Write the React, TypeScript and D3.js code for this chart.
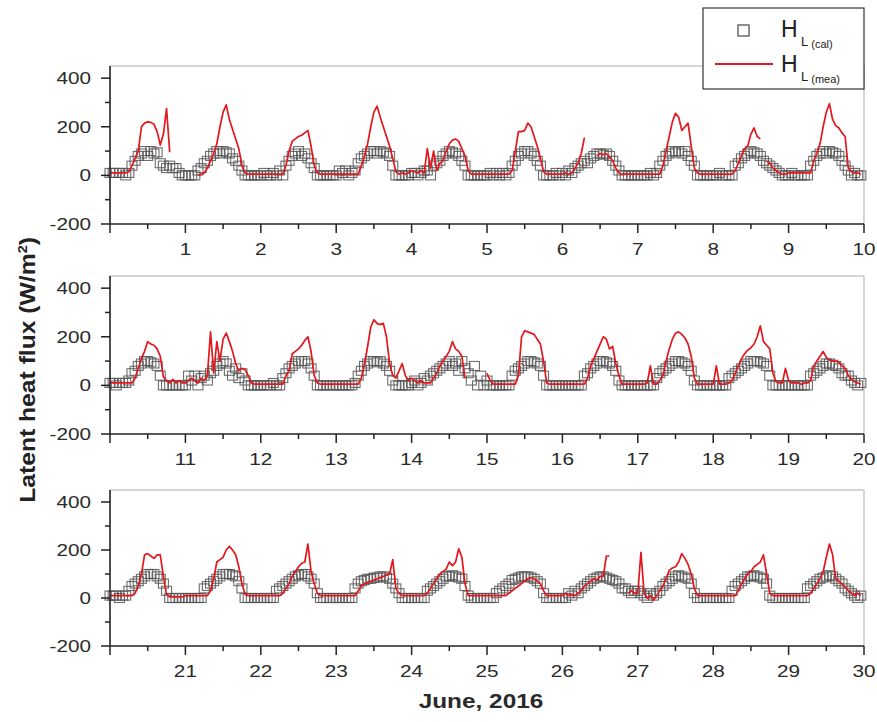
import React from 'react';
import * as d3 from 'd3';

// Hourly values (24 per day), June 2016, W/m2
const calP1 = [
  10,10,10,10,10,0,10,40,60,80,90,100,80,100,90,95,50,40,30,40,30,30,10,0,
  0,0,0,0,20,30,50,60,80,90,100,90,100,95,90,70,60,40,20,0,0,0,0,0,
  0,10,0,0,10,0,20,0,40,60,80,90,100,80,90,70,50,30,0,0,0,0,0,0,
  0,20,10,20,0,10,20,50,70,80,90,100,100,90,100,95,90,80,40,0,0,0,0,0,
  10,10,0,10,20,20,0,40,50,60,80,90,100,95,90,80,60,40,0,0,0,0,0,0,
  0,10,0,10,0,10,0,10,40,60,80,90,100,100,90,80,60,40,0,0,0,0,10,0,
  10,0,20,10,30,40,50,60,50,70,80,90,90,85,90,80,60,40,20,0,0,0,0,0,
  0,0,0,0,10,0,10,40,60,80,90,100,95,100,90,100,80,60,40,0,0,0,0,0,
  0,0,10,0,0,0,0,40,50,70,80,90,100,95,90,80,60,50,40,30,20,10,0,0,
  0,10,0,0,0,0,0,40,60,80,90,100,90,100,95,90,80,60,40,20,0,10,0,0,
];
const meaP1 = [
  10,10,10,10,10,10,15,40,70,100,200,215,220,218,210,180,125,170,275,95,null,null,null,null,
  null,null,null,null,0,5,10,30,60,90,130,200,260,290,230,190,150,110,40,10,5,5,5,5,
  5,5,5,5,5,5,5,5,40,100,140,150,160,165,175,185,120,40,10,5,5,5,5,5,
  5,5,5,5,5,5,5,5,40,80,130,200,260,285,240,200,160,120,70,15,5,10,5,10,
  20,15,10,20,10,110,30,100,20,50,60,100,130,145,150,140,110,80,20,5,5,5,5,5,
  5,5,5,5,5,5,5,5,20,100,180,180,185,215,200,160,120,70,15,5,5,5,5,5,
  5,10,5,10,30,50,90,155,null,null,null,80,90,85,90,75,60,30,10,5,5,5,5,5,
  5,5,5,5,5,5,5,5,40,100,160,220,255,240,185,200,215,120,30,10,5,5,5,5,
  5,5,5,5,5,5,5,20,50,80,110,120,170,195,160,150,null,60,50,30,20,10,5,5,
  10,10,10,10,10,10,10,10,60,90,130,200,260,295,230,205,195,175,160,30,15,10,10,5,
];
const calP2 = [
  10,10,0,10,10,10,20,50,60,80,90,100,100,95,90,80,40,0,0,0,0,0,0,0,
  0,40,20,40,0,30,40,20,50,60,80,90,100,90,60,40,70,30,50,20,0,0,0,0,
  0,0,0,0,10,0,0,30,50,70,80,90,100,100,100,90,70,40,0,0,0,0,0,0,
  0,0,0,0,0,0,10,40,60,80,90,100,100,95,100,90,80,60,20,0,0,0,0,0,
  10,20,0,10,30,20,40,50,60,70,80,90,100,80,90,60,100,70,50,20,80,0,40,0,
  20,0,0,0,0,0,0,0,40,60,70,80,90,100,100,95,90,80,40,0,0,0,0,0,
  0,0,0,0,0,0,0,40,50,70,80,90,100,100,95,90,80,60,20,0,0,0,0,0,
  0,0,0,0,0,0,30,50,60,70,80,90,100,100,95,90,80,60,20,0,0,0,0,0,
  0,0,0,0,0,30,40,50,60,70,80,90,100,100,100,95,90,80,40,0,0,0,0,0,
  0,0,0,0,0,0,0,40,50,60,70,80,90,90,85,80,70,50,40,40,20,10,0,10,
];
const meaP2 = [
  10,10,10,10,10,10,10,10,30,70,110,140,180,170,165,150,120,35,20,10,25,10,20,10,
  10,20,30,20,10,30,20,40,220,50,180,100,190,215,180,140,90,60,70,65,40,10,5,5,
  5,5,5,5,5,5,5,5,40,60,130,140,150,165,185,200,140,40,10,5,5,5,5,5,
  5,5,5,5,5,5,5,5,30,90,160,240,270,255,250,255,200,90,40,30,60,90,40,20,
  30,20,10,20,10,10,10,30,50,80,100,120,140,180,150,140,120,30,null,null,null,null,null,null,
  50,20,5,5,5,5,5,5,5,5,40,200,225,220,215,210,190,170,100,10,5,5,5,5,
  5,5,5,5,5,5,5,5,30,80,110,140,170,200,190,150,160,90,40,5,5,5,5,5,
  5,5,5,10,80,5,5,20,40,100,150,190,215,220,210,195,170,120,30,5,5,5,5,5,
  5,80,5,5,5,10,20,50,80,110,130,145,155,170,200,245,180,165,150,50,15,10,10,70,
  20,10,10,10,5,10,10,20,80,100,120,140,115,105,100,100,95,80,70,40,25,15,10,5,
];
const calP3 = [
  10,10,10,0,10,10,30,50,60,70,80,90,100,100,100,90,80,60,30,0,0,0,0,0,
  0,0,0,0,0,0,40,50,60,70,80,90,100,100,100,95,90,70,40,0,0,0,0,0,
  0,0,0,0,0,30,40,50,60,70,80,90,95,100,100,90,80,60,20,0,0,0,0,0,
  0,0,0,0,0,0,40,60,70,75,80,80,85,85,90,90,85,80,60,40,20,0,0,0,
  0,0,0,0,0,30,40,50,60,70,80,90,90,95,90,85,80,50,10,0,0,0,0,0,
  0,0,0,20,30,40,50,60,75,80,85,90,90,90,85,80,70,60,20,0,0,0,0,0,
  0,0,20,10,30,20,40,50,60,70,80,85,90,90,85,80,75,70,60,40,40,30,20,30,
  30,20,10,0,20,10,20,30,50,60,70,80,90,95,90,85,80,60,20,0,0,0,0,0,
  0,0,0,0,0,0,30,50,60,70,80,90,90,95,90,85,80,60,10,0,0,0,0,0,
  0,0,0,0,0,0,40,50,60,70,80,85,90,95,90,80,70,60,40,30,20,10,0,10,
];
const meaP3 = [
  10,10,10,10,10,10,10,10,20,50,100,180,185,175,165,180,180,90,15,5,5,5,5,5,
  10,10,10,10,10,10,10,10,30,80,150,160,170,200,215,200,180,130,60,15,10,10,10,10,
  10,10,10,10,10,10,10,20,40,60,90,110,130,145,150,225,110,60,20,10,10,10,10,10,
  10,10,10,10,10,10,10,30,50,60,65,70,75,80,85,90,95,100,160,40,20,10,10,10,
  10,10,10,10,10,20,40,60,80,100,110,120,150,135,150,205,170,60,10,10,10,10,10,10,
  10,10,10,10,10,10,10,20,30,40,50,60,70,80,85,80,70,60,30,10,10,10,10,10,
  10,20,10,15,10,20,30,50,60,70,80,75,90,90,175,175,null,null,null,null,null,20,30,20,
  20,190,20,0,10,-10,10,30,50,80,115,125,130,150,185,165,140,100,40,10,10,10,10,10,
  10,10,10,10,10,10,10,10,30,60,80,100,110,130,140,150,180,100,20,10,10,10,10,10,
  10,10,10,10,10,10,10,20,40,60,80,110,170,225,180,80,70,60,45,30,20,10,20,10,
];

const yMajor = [-200, 0, 200, 400];
const yMinor = [-100, 100, 300];

const FONT = 'Liberation Sans, Arial, sans-serif';
const RED = '#e3171c';
const SQ = '#555555';
const SX = 1.22; // horizontal stretch of the reference's lettering

const panels = [
  { start: 0, cal: calP1, mea: meaP1, top: 66, bottom: 224 },
  { start: 10, cal: calP2, mea: meaP2, top: 276, bottom: 434 },
  { start: 20, cal: calP3, mea: meaP3, top: 490, bottom: 646 },
];

const L = 110, R = 864;

function Label({ x, y, anchor, size, children, bold }: any) {
  return (
    <text
      transform={`translate(${x},${y}) scale(${SX},1)`}
      dy="0.35em"
      textAnchor={anchor}
      fontSize={size}
      fontWeight={bold ? 'bold' : 'normal'}
      fontFamily={FONT}
      fill="#2a2a2a"
    >
      {children}
    </text>
  );
}

function Panel({ p }: { p: any }) {
  const x = d3.scaleLinear().domain([p.start, p.start + 10]).range([L, R]);
  const y = d3.scaleLinear().domain([-200, 450]).range([p.bottom, p.top]);
  const calPts = p.cal.map((v: number, i: number) => ({ t: p.start + i / 24, v }));
  const meaPts = p.mea.map((v: number | null, i: number) => ({ t: p.start + i / 24, v }));
  const line = d3
    .line<any>()
    .defined((d) => d.v != null)
    .x((d) => x(d.t))
    .y((d) => y(d.v));
  const xMajor = d3.range(p.start, p.start + 11);
  const xMinor = d3.range(p.start + 0.5, p.start + 10, 1);
  const sw = 10, sh = 9;
  return (
    <g>
      <line x1={L} x2={R} y1={p.top} y2={p.top} stroke="#c8c8c8" strokeWidth={1.5} />
      <line x1={R} x2={R} y1={p.top} y2={p.bottom} stroke="#c8c8c8" strokeWidth={1.5} />
      {calPts.map((d: any, i: number) => (
        <rect key={i} x={x(d.t) - sw / 2} y={y(d.v) - sh / 2} width={sw} height={sh} fill="none" stroke={SQ} strokeWidth={1.1} strokeOpacity={0.85} />
      ))}
      <path d={line(meaPts) || ''} fill="none" stroke={RED} strokeWidth={1.7} strokeLinejoin="round" />
      <line x1={L} x2={L} y1={p.top} y2={p.bottom} stroke="#222" strokeWidth={1.6} />
      <line x1={L} x2={R} y1={p.bottom} y2={p.bottom} stroke="#222" strokeWidth={1.6} />
      {yMajor.map((v) => (
        <g key={'ym' + v}>
          <line x1={L - 9} x2={L} y1={y(v)} y2={y(v)} stroke="#222" strokeWidth={1.5} />
          <Label x={91} y={y(v)} anchor="end" size={17}>{v}</Label>
        </g>
      ))}
      {yMinor.map((v) => (
        <line key={'yn' + v} x1={L - 5} x2={L} y1={y(v)} y2={y(v)} stroke="#222" strokeWidth={1.5} />
      ))}
      {xMajor.map((v, i) => (
        <g key={'xm' + v}>
          <line x1={x(v)} x2={x(v)} y1={p.bottom} y2={p.bottom + 9} stroke="#222" strokeWidth={1.5} />
          {i > 0 && <Label x={x(v)} y={p.bottom + 25} anchor="middle" size={17}>{v}</Label>}
        </g>
      ))}
      {xMinor.map((v) => (
        <line key={'xn' + v} x1={x(v)} x2={x(v)} y1={p.bottom} y2={p.bottom + 5} stroke="#222" strokeWidth={1.5} />
      ))}
    </g>
  );
}

export default function App() {
  return (
    <svg width={877} height={722} style={{ position: 'absolute', left: 0, top: 0, background: '#fff' }}>
      <rect x={0} y={0} width={877} height={722} fill="#fff" />
      {panels.map((p, i) => (
        <Panel key={i} p={p} />
      ))}
      <Label x={481} y={701} anchor="middle" size={20} bold>June, 2016</Label>
      <text transform="translate(27,370) rotate(-90) scale(1.3,1.15)" textAnchor="middle" dy="0.35em" fontSize={19} fontWeight="bold" fontFamily={FONT} fill="#222">
        Latent heat flux (W/m<tspan dy="-7" fontSize={11}>2</tspan><tspan dy="7">)</tspan>
      </text>
      <g>
        <rect x={703} y={8} width={161} height={81} fill="#fff" stroke="#333" strokeWidth={1.2} />
        <rect x={738} y={25} width={11} height={11} fill="none" stroke={SQ} strokeWidth={1.3} />
        <text x={781} y={37} fontSize={23} fontFamily={FONT} fill="#222">H</text>
        <text x={801} y={46} fontFamily={FONT} fill="#222"><tspan fontSize={13}>L</tspan><tspan fontSize={11} dy="2"> (cal)</tspan></text>
        <line x1={715} x2={773} y1={64} y2={64} stroke={RED} strokeWidth={2} />
        <text x={781} y={72} fontSize={23} fontFamily={FONT} fill="#222">H</text>
        <text x={801} y={81} fontFamily={FONT} fill="#222"><tspan fontSize={13}>L</tspan><tspan fontSize={11} dy="2"> (mea)</tspan></text>
      </g>
    </svg>
  );
}
